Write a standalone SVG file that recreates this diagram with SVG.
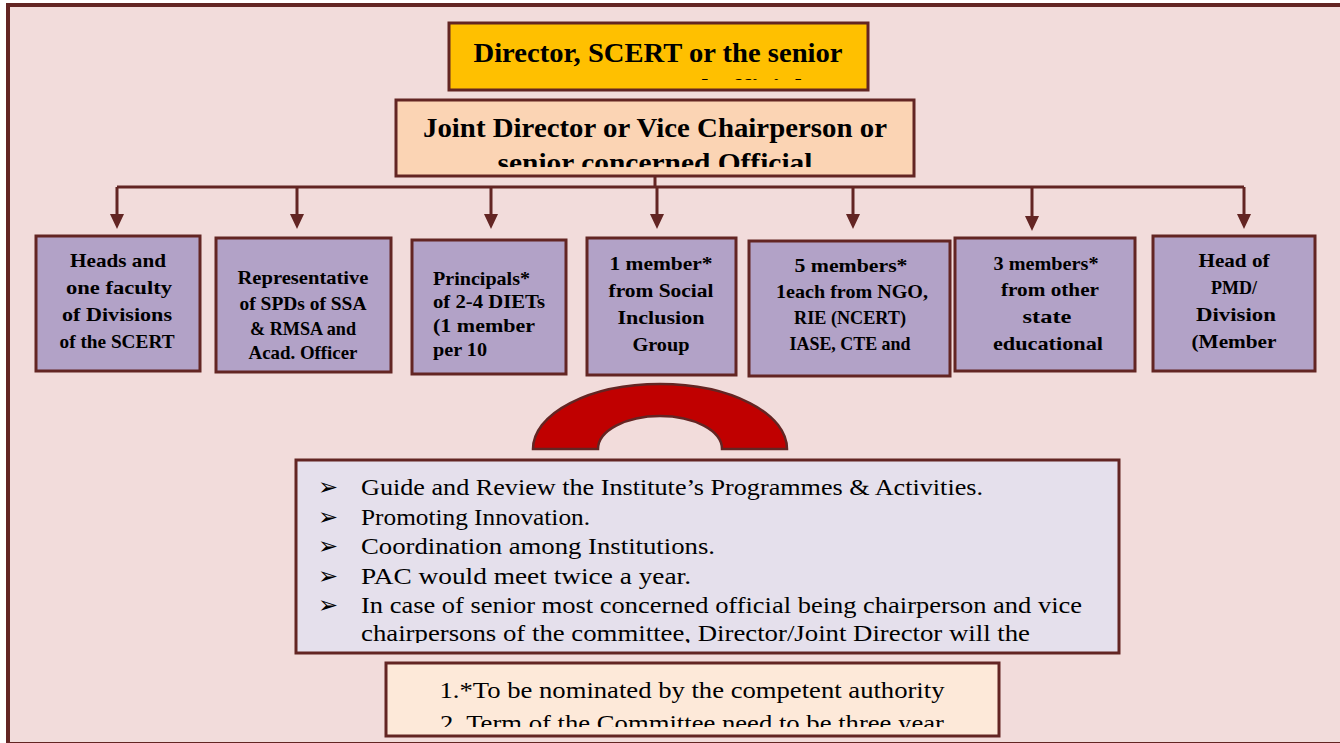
<svg xmlns="http://www.w3.org/2000/svg" width="1340" height="743" viewBox="0 0 1340 743">
<style>
.bx{stroke:#632523;stroke-width:3}
.pb{fill:#b2a2c7;stroke:#632523;stroke-width:3}
.hb{font-family:"Liberation Serif",serif;font-weight:bold;fill:#000}
.nt{font-family:"Liberation Serif",serif;font-weight:bold;font-size:19px;fill:#000;text-anchor:middle}
.nl{font-family:"Liberation Serif",serif;font-weight:bold;font-size:19px;fill:#000}
.bl{font-family:"Liberation Serif",serif;font-size:24px;fill:#000}
.ar{font-family:"DejaVu Sans",sans-serif;font-size:24px;fill:#000}
.cn{fill:none;stroke:#632523;stroke-width:3}
</style>
<defs>
<marker id="ah" markerUnits="userSpaceOnUse" markerWidth="16" markerHeight="16" viewBox="0 0 16 16" refX="1" refY="8" orient="auto">
<path d="M0,1 L15,8 L0,15 Z" fill="#632523"/>
</marker>
<clipPath id="c1"><rect x="451" y="25" width="415" height="55"/></clipPath>
<clipPath id="c2"><rect x="398" y="102" width="514" height="65"/></clipPath>
<clipPath id="c3"><rect x="298" y="462" width="820" height="181"/></clipPath>
<clipPath id="c4"><rect x="388" y="665" width="609" height="62"/></clipPath>
</defs>
<rect x="0" y="0" width="1340" height="743" fill="#ffffff"/>
<rect id="frame" x="8" y="5" width="1340" height="739" fill="#f2dcdb" stroke="#632523" stroke-width="4"/>

<g id="connectors">
<path class="cn" d="M655,177 V187 M117,187 H1244"/>
<path class="cn" d="M117,187 V215" marker-end="url(#ah)"/>
<path class="cn" d="M297,187 V215" marker-end="url(#ah)"/>
<path class="cn" d="M491,187 V215" marker-end="url(#ah)"/>
<path class="cn" d="M657,187 V215" marker-end="url(#ah)"/>
<path class="cn" d="M853,187 V215" marker-end="url(#ah)"/>
<path class="cn" d="M1032,187 V217" marker-end="url(#ah)"/>
<path class="cn" d="M1244,187 V215" marker-end="url(#ah)"/>
</g>

<g id="director">
<rect class="bx" x="449" y="23" width="419" height="67" fill="#ffc000"/>
<g clip-path="url(#c1)">
<text class="hb" x="658" y="62" font-size="27" text-anchor="middle" textLength="369" lengthAdjust="spacingAndGlyphs">Director, SCERT or the senior</text>
<text class="hb" x="658" y="98" font-size="27" text-anchor="middle" textLength="290" lengthAdjust="spacingAndGlyphs">most concerned official</text>
</g>
</g>

<g id="joint-director">
<rect class="bx" x="396" y="100" width="518" height="76" fill="#fbd4b4"/>
<g clip-path="url(#c2)">
<text class="hb" x="655" y="137" font-size="28" text-anchor="middle" textLength="464" lengthAdjust="spacingAndGlyphs">Joint Director or Vice Chairperson or</text>
<text class="hb" x="655" y="172" font-size="28" text-anchor="middle" textLength="315" lengthAdjust="spacingAndGlyphs">senior concerned Official</text>
</g>
</g>

<g id="n1">
<rect class="pb" x="36" y="236" width="164" height="135"/>
<text class="nt" x="118" y="267" textLength="96" lengthAdjust="spacingAndGlyphs">Heads and</text>
<text class="nt" x="119" y="294" textLength="106" lengthAdjust="spacingAndGlyphs">one faculty</text>
<text class="nt" x="117" y="321" textLength="110" lengthAdjust="spacingAndGlyphs">of Divisions</text>
<text class="nt" x="117" y="348" textLength="115" lengthAdjust="spacingAndGlyphs">of the SCERT</text>
</g>

<g id="n2">
<rect class="pb" x="216" y="238" width="175" height="134"/>
<text class="nt" x="303" y="284" textLength="131" lengthAdjust="spacingAndGlyphs">Representative</text>
<text class="nt" x="303" y="310" textLength="127" lengthAdjust="spacingAndGlyphs">of SPDs of SSA</text>
<text class="nt" x="303" y="335" textLength="106" lengthAdjust="spacingAndGlyphs">&amp; RMSA and</text>
<text class="nt" x="303" y="359" textLength="109" lengthAdjust="spacingAndGlyphs">Acad. Officer</text>
</g>

<g id="n3">
<rect class="pb" x="412" y="240" width="154" height="134"/>
<text class="nl" x="433" y="285" textLength="97" lengthAdjust="spacingAndGlyphs">Principals*</text>
<text class="nl" x="433" y="308" textLength="112" lengthAdjust="spacingAndGlyphs">of 2-4 DIETs</text>
<text class="nl" x="433" y="332" textLength="102" lengthAdjust="spacingAndGlyphs">(1 member</text>
<text class="nl" x="433" y="356" textLength="54" lengthAdjust="spacingAndGlyphs">per 10</text>
</g>

<g id="n4">
<rect class="pb" x="587" y="238" width="149" height="137"/>
<text class="nt" x="661" y="270" textLength="103" lengthAdjust="spacingAndGlyphs">1 member*</text>
<text class="nt" x="661" y="297" textLength="105" lengthAdjust="spacingAndGlyphs">from Social</text>
<text class="nt" x="661" y="324" textLength="87" lengthAdjust="spacingAndGlyphs">Inclusion</text>
<text class="nt" x="661" y="351" textLength="57" lengthAdjust="spacingAndGlyphs">Group</text>
</g>

<g id="n5">
<rect class="pb" x="749" y="241" width="201" height="135"/>
<text class="nt" x="851" y="272" textLength="113" lengthAdjust="spacingAndGlyphs">5 members*</text>
<text class="nt" x="852" y="298" textLength="152" lengthAdjust="spacingAndGlyphs">1each from NGO,</text>
<text class="nt" x="850" y="324" textLength="112" lengthAdjust="spacingAndGlyphs">RIE (NCERT)</text>
<text class="nt" x="850" y="350" textLength="121" lengthAdjust="spacingAndGlyphs">IASE, CTE and</text>
</g>

<g id="n6">
<rect class="pb" x="955" y="238" width="180" height="133"/>
<text class="nt" x="1046" y="270" textLength="105" lengthAdjust="spacingAndGlyphs">3 members*</text>
<text class="nt" x="1050" y="296" textLength="98" lengthAdjust="spacingAndGlyphs">from other</text>
<text class="nt" x="1047" y="323" textLength="49" lengthAdjust="spacingAndGlyphs">state</text>
<text class="nt" x="1048" y="350" textLength="110" lengthAdjust="spacingAndGlyphs">educational</text>
</g>

<g id="n7">
<rect class="pb" x="1153" y="236" width="162" height="135"/>
<text class="nt" x="1234" y="267" textLength="71" lengthAdjust="spacingAndGlyphs">Head of</text>
<text class="nt" x="1234" y="294" textLength="46" lengthAdjust="spacingAndGlyphs">PMD/</text>
<text class="nt" x="1236" y="321" textLength="80" lengthAdjust="spacingAndGlyphs">Division</text>
<text class="nt" x="1234" y="348" textLength="85" lengthAdjust="spacingAndGlyphs">(Member</text>
</g>

<g id="arch">
<path d="M533,449 A127,65 0 0 1 787,449 L722,449 A62,33 0 0 0 598,449 Z" fill="#c00000" stroke="#632523" stroke-width="2.5"/>
</g>

<g id="functions">
<rect class="bx" x="296" y="460" width="823" height="193" fill="#e5e0ec"/>
<g clip-path="url(#c3)">
<text class="ar" x="318" y="495">➢</text>
<text class="ar" x="318" y="525">➢</text>
<text class="ar" x="318" y="554">➢</text>
<text class="ar" x="318" y="584">➢</text>
<text class="ar" x="318" y="613">➢</text>
<text class="bl" x="361" y="495" textLength="622" lengthAdjust="spacingAndGlyphs">Guide and Review the Institute’s Programmes &amp; Activities.</text>
<text class="bl" x="361" y="525" textLength="229" lengthAdjust="spacingAndGlyphs">Promoting Innovation.</text>
<text class="bl" x="361" y="554" textLength="354" lengthAdjust="spacingAndGlyphs">Coordination among Institutions.</text>
<text class="bl" x="361" y="584" textLength="330" lengthAdjust="spacingAndGlyphs">PAC would meet twice a year.</text>
<text class="bl" x="361" y="613" textLength="721" lengthAdjust="spacingAndGlyphs">In case of senior most concerned official being chairperson and vice</text>
<text class="bl" x="361" y="641" textLength="669" lengthAdjust="spacingAndGlyphs">chairpersons of the committee, Director/Joint Director will the</text>
</g>
</g>

<g id="notes">
<rect class="bx" x="386" y="663" width="613" height="73" fill="#fde9d9"/>
<g clip-path="url(#c4)">
<text class="bl" x="692" y="698" font-size="24" text-anchor="middle" textLength="505" lengthAdjust="spacingAndGlyphs">1.*To be nominated by the competent authority</text>
<text class="bl" x="692" y="731" font-size="24" text-anchor="middle" textLength="504" lengthAdjust="spacingAndGlyphs">2. Term of the Committee need to be three year</text>
</g>
</g>
</svg>
